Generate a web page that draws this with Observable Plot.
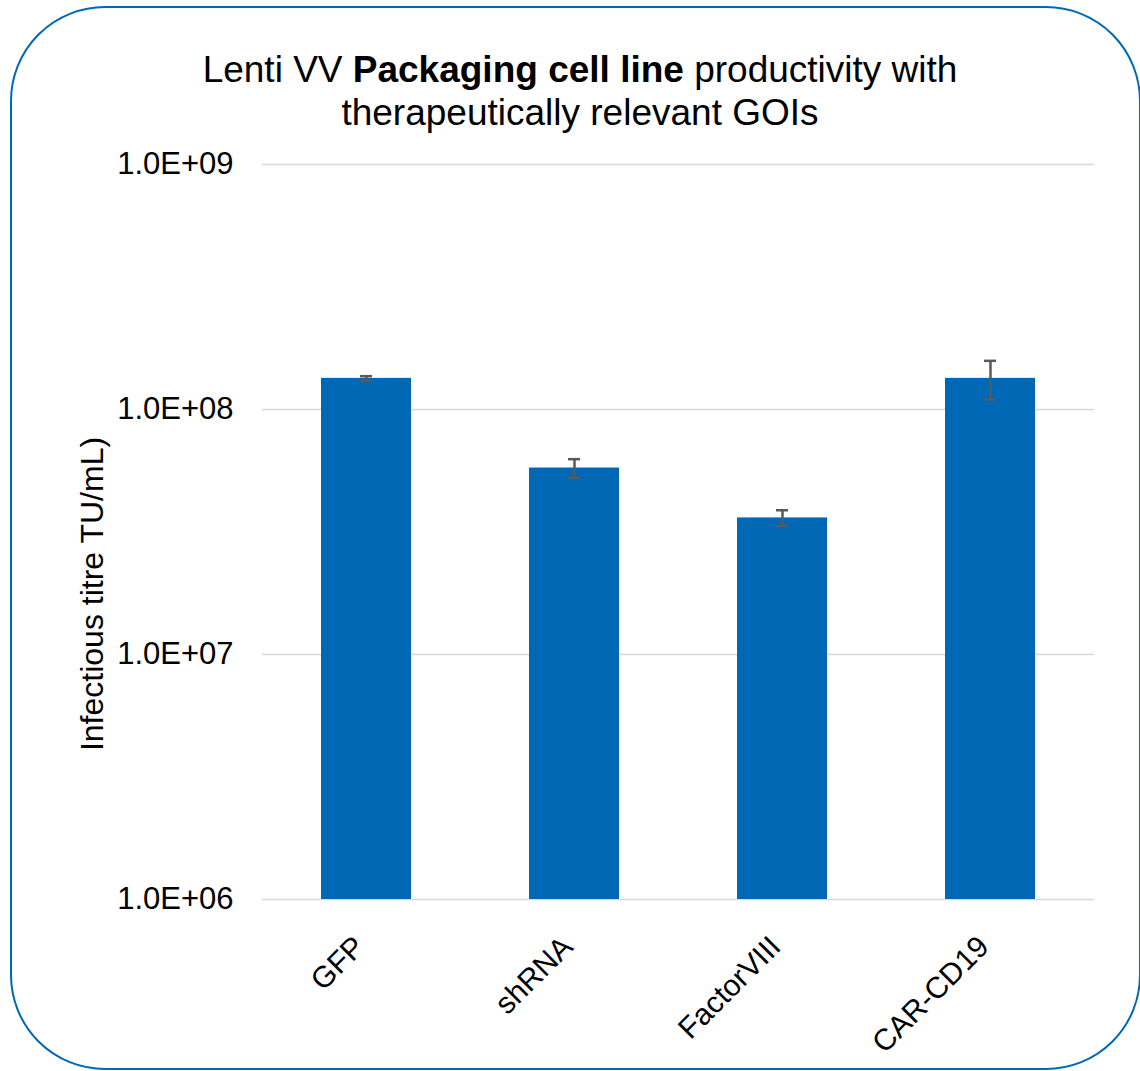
<!DOCTYPE html>
<html>
<head>
<meta charset="utf-8">
<script src="https://cdn.jsdelivr.net/npm/d3@7"></script>
<script src="https://cdn.jsdelivr.net/npm/@observablehq/plot@0.6"></script>
<style>
  html, body { margin: 0; padding: 0; background: #ffffff; }
  #wrap { position: relative; width: 1140px; height: 1071px; overflow: hidden; font-family: "Liberation Sans", Arial, sans-serif; }
  #frame { position: absolute; left: 10px; top: 6px; width: 1127px; height: 1060px; border: 2.5px solid #0068b5; border-radius: 95px; }
  #title { position: absolute; left: 0; top: 48px; width: 1160px; text-align: center; font-size: 37px; line-height: 43px; color: #000; }
  #chart { position: absolute; left: 0; top: 140px; }
</style>
</head>
<body>
<div id="wrap">
  <div id="frame"></div>
  <div id="title">Lenti VV <b>Packaging cell line</b> productivity with<br>therapeutically relevant GOIs</div>
  <div id="chart"></div>
</div>
<script>
const categories = ["GFP", "shRNA", "FactorVIII", "CAR-CD19"];
const titres = [1.34e8, 5.77e7, 3.61e7, 1.34e8];
const errors = [2.8e6, 5.0e6, 2.7e6, 2.4e7];
const yTicks = [1e6, 1e7, 1e8, 1e9];
const yTickLabels = ["1.0E+06", "1.0E+07", "1.0E+08", "1.0E+09"];
const yLabel = "Infectious titre TU/mL)";

const data = categories.map((c, i) => ({
  cat: c, v: titres[i], lo: titres[i] - errors[i], hi: titres[i] + errors[i]
}));
const labelMap = new Map(yTicks.map((t, i) => [t, yTickLabels[i]]));
const font = "'Liberation Sans', Arial, sans-serif";

const chart = Plot.plot({
  width: 1140,
  height: 931,
  marginLeft: 262,
  marginRight: 46,
  marginTop: 24,
  marginBottom: 172,
  style: { fontFamily: font, color: "#000", background: "transparent", overflow: "visible" },
  x: { type: "band", domain: categories, paddingInner: 0.567, paddingOuter: 0.2835, axis: null },
  y: { type: "log", domain: [1e6, 1e9], axis: null },
  marks: [
    Plot.ruleY(yTicks, { stroke: "#d9d9d9", strokeWidth: 1.5 }),
    Plot.barY(data, { x: "cat", y1: 1e6, y2: "v", fill: "#0068b5" }),
    Plot.ruleX(data, { x: "cat", y1: "lo", y2: "hi", stroke: "#595959", strokeWidth: 2.5 }),
    Plot.tickY(data, { x: "cat", y: "lo", stroke: "#595959", strokeWidth: 2.5, insetLeft: 39, insetRight: 39 }),
    Plot.tickY(data, { x: "cat", y: "hi", stroke: "#595959", strokeWidth: 2.5, insetLeft: 39, insetRight: 39 }),
    Plot.axisY({ ticks: yTicks, tickFormat: d => labelMap.get(d), tickSize: 0, tickPadding: 29, fontSize: 31, fill: "#000" }),
    Plot.text(categories, { x: d => d, frameAnchor: "bottom", dy: 49, rotate: -45, textAnchor: "end", lineAnchor: "bottom", fontSize: 30, fill: "#000" }),
    Plot.text([yLabel], { frameAnchor: "left", dx: -170, dy: 62, rotate: -90, textAnchor: "middle", lineAnchor: "middle", fontSize: 32, fill: "#000" })
  ]
});
document.getElementById("chart").appendChild(chart);
</script>
</body>
</html>
